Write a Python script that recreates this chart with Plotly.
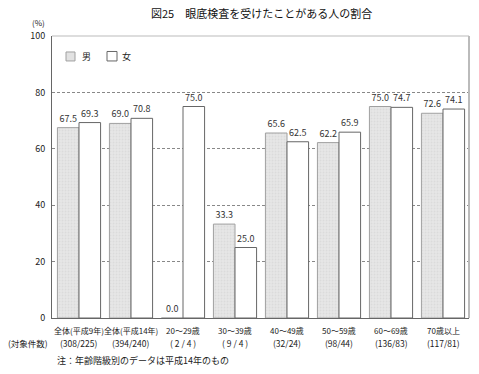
import plotly.graph_objects as go

categories = ["全体(平成9年)", "全体(平成14年)", "20～29歳", "30～39歳", "40～49歳", "50～59歳", "60～69歳", "70歳以上"]
counts = ["(308/225)", "(394/240)", "( 2 / 4 )", "( 9 / 4 )", "(32/24)", "(98/44)", "(136/83)", "(117/81)"]
male = [67.5, 69.0, 0.0, 33.3, 65.6, 62.2, 75.0, 72.6]
female = [69.3, 70.8, 75.0, 25.0, 62.5, 65.9, 74.7, 74.1]
y_ticks = [0, 20, 40, 60, 80, 100]

FONT = "Noto Sans CJK JP"
W, H = 479, 374
L, R, T, B = 52, 10, 36, 55.5
PW, PH = W - L - R, H - T - B


def px2x(px):
    return (px - L) / PW


def px2y(py):
    return (H - B - py) / PH


MALE_FILL = "#e2e2e2"
MALE_LINE = "#a0a0a0"
FEMALE_LINE = "#666666"

fig = go.Figure()
fig.add_trace(go.Bar(
    x=categories, y=male, name="男",
    marker=dict(color=MALE_FILL, line=dict(color=MALE_LINE, width=1),
                pattern=dict(shape=".", fgcolor="#cfcfcf", bgcolor="#e6e6e6", size=3, solidity=0.3)),
    text=[f"{v:.1f}" for v in male], textposition="outside",
    textfont=dict(size=9, color="#333"), cliponaxis=False,
))
fig.add_trace(go.Bar(
    x=categories, y=female, name="女",
    marker=dict(color="#ffffff", line=dict(color=FEMALE_LINE, width=1)),
    text=[f"{v:.1f}" for v in female], textposition="outside",
    textfont=dict(size=9, color="#333"), cliponaxis=False,
))

annotations = [
    dict(text="(%)", xref="paper", yref="paper", x=px2x(47), y=px2y(22.5),
         xanchor="right", yanchor="middle", showarrow=False, font=dict(size=8)),
    dict(text="(対象件数)", xref="paper", yref="paper", x=px2x(50), y=px2y(344),
         xanchor="right", yanchor="middle", showarrow=False, font=dict(size=8.5)),
    dict(text="注：年齢階級別のデータは平成14年のもの", xref="paper", yref="paper",
         x=px2x(55), y=px2y(361.5), xanchor="left", yanchor="middle", showarrow=False,
         font=dict(size=9)),
    dict(text="男", xref="paper", yref="paper", x=px2x(80), y=px2y(56.5),
         xanchor="left", yanchor="middle", showarrow=False, font=dict(size=9)),
    dict(text="女", xref="paper", yref="paper", x=px2x(120), y=px2y(56.5),
         xanchor="left", yanchor="middle", showarrow=False, font=dict(size=9)),
]
for c, n in zip(categories, counts):
    annotations.append(dict(text=c, x=c, xref="x", yref="paper", y=px2y(331.5),
                            xanchor="center", yanchor="middle", showarrow=False,
                            font=dict(size=8)))
    annotations.append(dict(text=n, x=c, xref="x", yref="paper", y=px2y(344),
                            xanchor="center", yanchor="middle", showarrow=False,
                            font=dict(size=8.5)))

shapes = [
    dict(type="line", xref="paper", yref="paper", x0=0, x1=1, y0=1, y1=1,
         line=dict(color="#bbbbbb", width=1)),
    dict(type="line", xref="paper", yref="paper", x0=1, x1=1, y0=0, y1=1,
         line=dict(color="#bbbbbb", width=2)),
    # legend swatches
    dict(type="rect", xref="paper", yref="paper", x0=px2x(66), x1=px2x(75),
         y0=px2y(61), y1=px2y(52), fillcolor=MALE_FILL, line=dict(color=MALE_LINE, width=1)),
    dict(type="rect", xref="paper", yref="paper", x0=px2x(107), x1=px2x(117),
         y0=px2y(61), y1=px2y(51.5), fillcolor="#ffffff", line=dict(color=FEMALE_LINE, width=1)),
]

fig.update_layout(
    width=W, height=H,
    margin=dict(l=L, r=R, t=T, b=B, autoexpand=False),
    paper_bgcolor="white", plot_bgcolor="white",
    font=dict(family=FONT, size=9, color="#222"),
    barmode="group", bargap=0.17, bargroupgap=0.0,
    showlegend=False,
    title=dict(text="図25　眼底検査を受けたことがある人の割合", xref="container",
               x=0.546, xanchor="center", yref="container", y=1 - 14.5 / H,
               yanchor="middle", font=dict(size=11, family=FONT, color="#111")),
    xaxis=dict(showticklabels=False, showline=True, linecolor="#666", linewidth=1,
               ticks="", showgrid=False, automargin=False),
    yaxis=dict(range=[0, 100], tickvals=y_ticks, showgrid=True, gridcolor="#888",
               griddash="3px,2px", gridwidth=1, showline=True, linecolor="#666",
               linewidth=1, ticks="", tickfont=dict(size=9), zeroline=False,
               automargin=False, ticklabelstandoff=4),
    shapes=shapes,
    annotations=annotations,
)

fig.write_html("out.html", post_script="document.body.style.margin='0';",
               config={"displayModeBar": False})
